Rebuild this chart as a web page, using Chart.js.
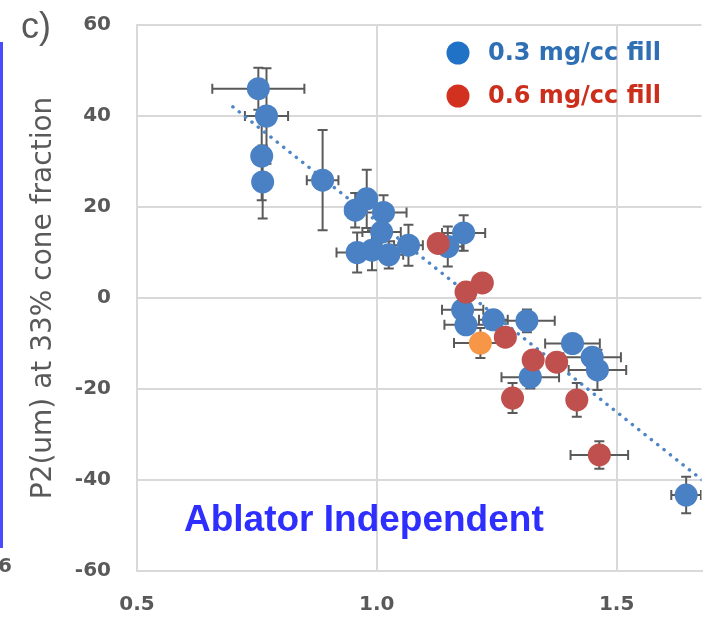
<!DOCTYPE html>
<html>
<head>
<meta charset="utf-8">
<script src="https://cdn.jsdelivr.net/npm/chart.js@4.4.1/dist/chart.umd.min.js"></script>
<style>
  html, body { margin: 0; padding: 0; background: #ffffff; }
  #wrap { width: 713px; height: 622px; position: relative; }
</style>
</head>
<body>
<div id="wrap"><canvas id="c" width="713" height="622"></canvas></div>
<script>
// ---------- data ----------
const seriesLabels = ['0.3 mg/cc fill', '0.6 mg/cc fill'];

const blueX    = [0.753, 0.770, 0.760, 0.762, 0.887, 0.955, 0.979, 1.014, 1.010, 0.959, 0.990, 1.025, 1.066, 1.148, 1.181, 1.179, 1.186, 1.243, 1.313, 1.320, 1.408, 1.449, 1.460, 1.645];
const blueY    = [46.0, 40.0, 31.2, 25.5, 25.9, 19.3, 21.8, 18.8, 14.5, 10.0, 10.5, 9.5, 11.6, 11.3, 14.3, -2.6, -5.9, -4.8, -5.0, -17.4, -10.0, -13.0, -15.8, -43.3];
const blueXErr = [0.096, 0.045, 0, 0, 0.033, 0.02, 0.02, 0.048, 0.04, 0.043, 0.03, 0.03, 0.03, 0.03, 0.045, 0.043, 0.045, 0.03, 0.058, 0.06, 0.057, 0.06, 0.06, 0.031];
const blueYErr = [4.6, 10.5, 9.7, 8.0, 11.0, 3.8, 6.4, 3.8, 3.5, 4.4, 4.4, 3.0, 4.5, 4.4, 3.9, 2.0, 2.0, 2.0, 2.5, 2.5, 2.0, 2.0, 4.4, 4.0];

const redX    = [1.128, 1.186, 1.220, 1.268, 1.326, 1.375, 1.283, 1.417, 1.464];
const redY    = [12.0, 1.3, 3.3, -8.6, -13.6, -14.1, -22.0, -22.4, -34.5];
const redXErr = [0, 0, 0, 0, 0, 0, 0, 0, 0.06];
const redYErr = [0, 0, 0, 0, 0, 0, 3.3, 3.7, 3.0];

const orangeX    = [1.216];
const orangeY    = [-9.9];
const orangeXErr = [0.055];
const orangeYErr = [3.3];

// dotted linear trend line (end points)
const trendX = [0.70, 1.75];
const trendY = [42.0, -46.0];

const xTickValues = [0.5, 1.0, 1.5];
const yTickValues = [-60, -40, -20, 0, 20, 40, 60];

const yTitle = 'P2(um) at 33% cone fraction';
const panelLabel = 'c)';
const noteText = 'Ablator Independent';
const noteAt = { x: 0.973, y: -49 };
// ----------------------------------------------------

function pts(xs, ys, xe, ye) {
  return xs.map((x, i) => ({ x: x, y: ys[i], xe: xe ? xe[i] : 0, ye: ye ? ye[i] : 0 }));
}

const GRID = '#d9d9d9';
const TXT = '#595959';
const BLUE = '#4a80c4';
const RED = '#c0504d';
const ORANGE = '#f79646';

const errorBars = {
  id: 'errorBars',
  beforeDatasetsDraw(chart) {
    const { ctx, chartArea, scales } = chart;
    const xs = scales.x, ys = scales.y;
    ctx.save();
    ctx.beginPath();
    ctx.rect(chartArea.left, chartArea.top, chartArea.right - chartArea.left, chartArea.bottom - chartArea.top);
    ctx.clip();
    ctx.strokeStyle = '#5a5a5a';
    ctx.lineWidth = 2;
    const cap = 5;
    chart.data.datasets.forEach((ds) => {
      if (!ds.errorBars) return;
      ds.data.forEach((p) => {
        const cx = xs.getPixelForValue(p.x), cy = ys.getPixelForValue(p.y);
        if (p.xe) {
          const x1 = xs.getPixelForValue(p.x - p.xe), x2 = xs.getPixelForValue(p.x + p.xe);
          ctx.beginPath();
          ctx.moveTo(x1, cy); ctx.lineTo(x2, cy);
          ctx.moveTo(x1, cy - cap); ctx.lineTo(x1, cy + cap);
          ctx.moveTo(x2, cy - cap); ctx.lineTo(x2, cy + cap);
          ctx.stroke();
        }
        if (p.ye) {
          const y1 = ys.getPixelForValue(p.y - p.ye), y2 = ys.getPixelForValue(p.y + p.ye);
          ctx.beginPath();
          ctx.moveTo(cx, y1); ctx.lineTo(cx, y2);
          ctx.moveTo(cx - cap, y1); ctx.lineTo(cx + cap, y1);
          ctx.moveTo(cx - cap, y2); ctx.lineTo(cx + cap, y2);
          ctx.stroke();
        }
      });
    });
    ctx.restore();
  }
};

const decorations = {
  id: 'decorations',
  afterDraw(chart) {
    const { ctx, chartArea, scales } = chart;
    ctx.save();
    // legend inside plot area
    const legendItems = [
      { text: seriesLabels[0], marker: '#1f72c6', color: '#2f6fb3' },
      { text: seriesLabels[1], marker: '#d2311f', color: '#cc2e1c' }
    ];
    const lx = chartArea.left + 321, ly0 = chartArea.top + 28, gap = 43;
    ctx.font = 'bold 24px "DejaVu Sans"';
    ctx.textBaseline = 'middle';
    ctx.textAlign = 'left';
    legendItems.forEach((it, i) => {
      const y = ly0 + i * gap;
      ctx.fillStyle = it.marker;
      ctx.beginPath();
      ctx.arc(lx, y, 11.5, 0, Math.PI * 2);
      ctx.fill();
      ctx.fillStyle = it.color;
      ctx.fillText(it.text, lx + 30, y + 1);
    });
    // annotation text
    ctx.fillStyle = '#2e2eff';
    ctx.font = 'bold 37px "Liberation Sans"';
    ctx.textAlign = 'center';
    ctx.textBaseline = 'middle';
    ctx.fillText(noteText, scales.x.getPixelForValue(noteAt.x), scales.y.getPixelForValue(noteAt.y));
    // panel label
    ctx.fillStyle = TXT;
    ctx.font = '36px "Liberation Sans"';
    ctx.textAlign = 'left';
    ctx.textBaseline = 'alphabetic';
    ctx.fillText(panelLabel, 21, 38);
    // neighbouring panel remnants
    ctx.fillStyle = '#4a4aff';
    ctx.fillRect(0, 42, 3, 506);
    ctx.fillStyle = TXT;
    ctx.font = 'bold 20px "DejaVu Sans"';
    ctx.textAlign = 'right';
    ctx.textBaseline = 'middle';
    ctx.fillText('6', 12, 567);
    ctx.restore();
  }
};

new Chart(document.getElementById('c'), {
  type: 'scatter',
  data: {
    datasets: [
      { label: seriesLabels[1], data: pts(redX, redY, redXErr, redYErr), errorBars: true,
        backgroundColor: RED, borderWidth: 0, pointRadius: 11.5, pointHoverRadius: 11.5 },
      { label: 'orange', data: pts(orangeX, orangeY, orangeXErr, orangeYErr), errorBars: true,
        backgroundColor: ORANGE, borderWidth: 0, pointRadius: 11.5, pointHoverRadius: 11.5 },
      { label: seriesLabels[0], data: pts(blueX, blueY, blueXErr, blueYErr), errorBars: true,
        backgroundColor: BLUE, borderWidth: 0, pointRadius: 11.5, pointHoverRadius: 11.5 },
      { label: 'trend', type: 'line', data: pts(trendX, trendY), showLine: true,
        borderColor: '#4f86c6', borderWidth: 3.5, borderDash: [0.1, 8], borderCapStyle: 'round',
        pointRadius: 0, fill: false, tension: 0 }
    ]
  },
  options: {
    responsive: false,
    animation: false,
    events: [],
    layout: { padding: { top: 25, right: 0, bottom: 0, left: 0 } },
    plugins: { legend: { display: false }, tooltip: { enabled: false }, title: { display: false } },
    scales: {
      x: {
        type: 'linear', min: 0.5, max: 1.677,
        afterBuildTicks: (s) => { s.ticks = xTickValues.map(v => ({ value: v })); },
        afterFit: (s) => { s.height = 51; s.paddingLeft = 0; s.paddingRight = 0; },
        grid: { color: GRID, lineWidth: 2, drawTicks: false },
        border: { color: GRID, width: 2 },
        ticks: { color: TXT, padding: 22, font: { family: 'DejaVu Sans', size: 20, weight: 'bold' },
                 callback: (v) => Number(v).toFixed(1), maxRotation: 0 }
      },
      y: {
        type: 'linear', min: -60, max: 60,
        afterBuildTicks: (s) => { s.ticks = yTickValues.map(v => ({ value: v })); },
        afterFit: (s) => { s.width = 137; s.paddingTop = 0; s.paddingBottom = 0; },
        grid: { color: GRID, lineWidth: 2, drawTicks: false },
        border: { color: GRID, width: 2 },
        ticks: { color: TXT, padding: 26, font: { family: 'DejaVu Sans', size: 20, weight: 'bold' } },
        title: { display: true, text: yTitle, color: TXT,
                 font: { family: 'DejaVu Sans', size: 28, weight: 'normal' },
                 padding: { top: 27, bottom: 0 } }
      }
    }
  },
  plugins: [errorBars, decorations]
});
</script>
</body>
</html>
